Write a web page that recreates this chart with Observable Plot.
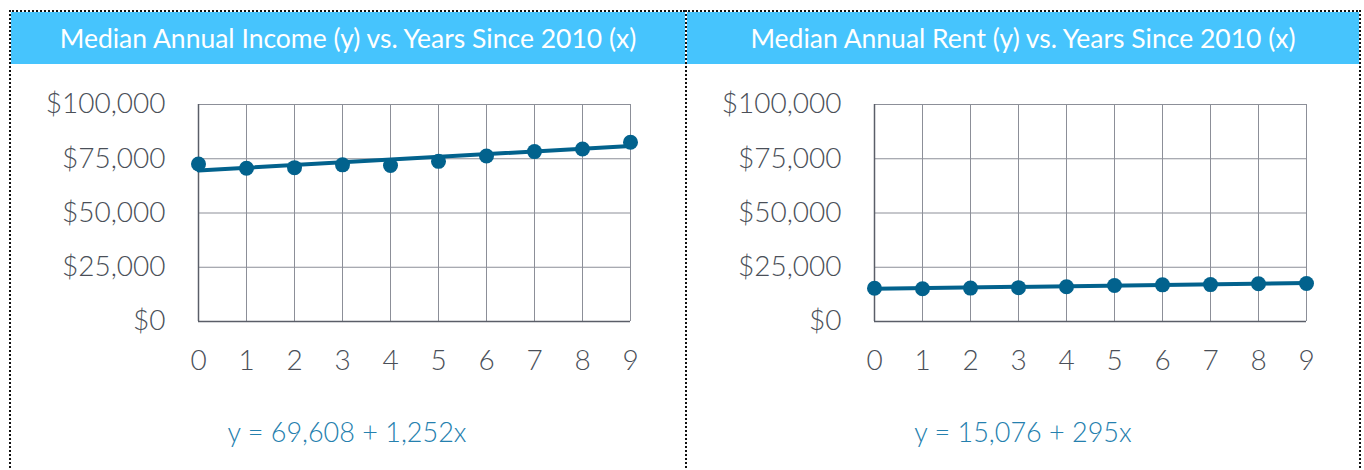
<!DOCTYPE html>
<html>
<head>
<meta charset="utf-8">
<script src="https://cdn.jsdelivr.net/npm/d3@7"></script>
<script src="https://cdn.jsdelivr.net/npm/@observablehq/plot@0.6"></script>
<style>
  html, body { margin: 0; padding: 0; background: #fff; }
  body { width: 1364px; height: 470px; position: relative; overflow: hidden; font-family: Lato, "Open Sans", sans-serif; }
  .panel { position: absolute; top: 10px; height: 470px; border-left: 2px dotted #111; border-top: 2px dotted #111; box-sizing: border-box; }
  .header { position: absolute; left: 0; top: 0px; height: 52px; background: #46C4FD; color: #fff; font-size: 26.5px; font-weight: 400; line-height: 52px; text-align: center; }
  .chart { position: absolute; left: 0; top: 53px; }
  .eq { position: absolute; top: 403px; font-size: 27px; color: #2580AE; text-align: center; font-weight: 300; }
</style>
</head>
<body>
<div id="root"></div>
<script>
// ---- data ----
const years = [0, 1, 2, 3, 4, 5, 6, 7, 8, 9];
const incomeValues = [72600, 70600, 70900, 72200, 71900, 73800, 76300, 78300, 79500, 82600];
const rentValues   = [15300, 15100, 15400, 15600, 16000, 16600, 16900, 17000, 17400, 17500];
const incomeTrendX = [0, 9];
const incomeTrendY = [69608, 80876];
const rentTrendX = [0, 9];
const rentTrendY = [15076, 17731];
const yTicks = [0, 25000, 50000, 75000, 100000];
const titles = ["Median Annual Income (y) vs. Years Since 2010 (x)", "Median Annual Rent (y) vs. Years Since 2010 (x)"];
const equations = ["y = 69,608 + 1,252x", "y = 15,076 + 295x"];

const panels = [
  {left: 9, width: 676, values: incomeValues, tx: incomeTrendX, ty: incomeTrendY, title: titles[0], eq: equations[0], eqCenter: 336},
  {left: 685, width: 676, values: rentValues, tx: rentTrendX, ty: rentTrendY, title: titles[1], eq: equations[1], eqCenter: 336}
];

const root = document.getElementById("root");
const fmt = d => "$" + d3.format(",")(d);

panels.forEach((p, i) => {
  const div = document.createElement("div");
  div.className = "panel";
  div.style.left = p.left + "px";
  div.style.width = p.width + "px";
  if (i === 1) div.style.borderRight = "2px dotted #111";
  root.appendChild(div);

  const header = document.createElement("div");
  header.className = "header";
  header.style.width = (p.width - (i === 1 ? 4 : 2)) + "px";
  header.textContent = p.title;
  div.appendChild(header);

  const data = years.map((x, k) => ({x, y: p.values[k]}));
  const trend = p.tx.map((x, k) => ({x, y: p.ty[k]}));

  const chart = Plot.plot({
    width: 672,
    height: 405,
    marginLeft: 187,
    marginRight: 53,
    marginTop: 39,
    marginBottom: 149,
    style: {fontFamily: "Lato, sans-serif", fontSize: "28px", color: "#4a4f58", background: "transparent", overflow: "visible"},
    x: {domain: [0, 9], ticks: years, tickSize: 0, tickPadding: 29, tickFormat: d => String(d), label: null},
    y: {domain: [0, 100000], ticks: yTicks, tickSize: 0, tickPadding: 33, tickFormat: fmt, label: null},
    marks: [
      Plot.gridX(years, {stroke: "#8c8f98", strokeOpacity: 1, strokeWidth: 1}),
      Plot.gridY(yTicks, {stroke: "#8c8f98", strokeOpacity: 1, strokeWidth: 1}),
      Plot.ruleX([0], {stroke: "#5a5e68", strokeWidth: 1.5}),
      Plot.ruleY([0], {stroke: "#5a5e68", strokeWidth: 1.5}),
      Plot.axisX({ticks: years, tickSize: 0, tickPadding: 29, tickFormat: d => String(d), fontWeight: 300, fill: "#4a4f58"}),
      Plot.axisY({ticks: yTicks, tickSize: 0, tickPadding: 33, tickFormat: fmt, fontWeight: 300, fill: "#4a4f58"}),
      Plot.line(trend, {x: "x", y: "y", stroke: "#02628D", strokeWidth: 4}),
      Plot.dot(data, {x: "x", y: "y", r: 7.5, fill: "#02628D", stroke: "none"})
    ]
  });
  chart.classList.add("chart");
  div.appendChild(chart);

  const eq = document.createElement("div");
  eq.className = "eq";
  eq.style.left = (p.eqCenter - 150) + "px";
  eq.style.width = "300px";
  eq.textContent = p.eq;
  div.appendChild(eq);
});
</script>
</body>
</html>
